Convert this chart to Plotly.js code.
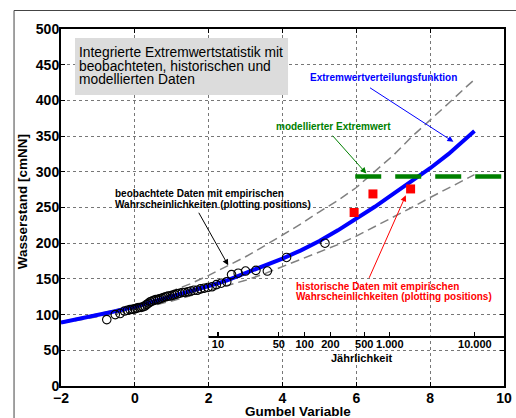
<!DOCTYPE html>
<html>
<head>
<meta charset="utf-8">
<script src="https://cdn.plot.ly/plotly-3.0.1.min.js"></script>
<style>html,body{margin:0;padding:0;background:#fff;}#chart{width:516px;height:418px;}</style>
</head>
<body>
<div id="chart"></div>
<script>
// ---- data ----
const curveX = [-2,-1.5,-1,-0.5,0,0.5,1,1.5,2,2.5,3,3.5,4,4.5,5,5.5,6,6.5,7,7.5,8,8.5,9,9.2];
const fitY   = [89,94,99,105,111,118,125,132,140,148,158,168,178.5,190,203,218,234,251,269,287,305,325,347,357];
const upperY = [90,95,101,107,114,123,133,143,155,168,181,196,211,227,244,260,278,300,323,349,372,396,420,429];
const lowerY = [88,92,97,102,107,113,119,126,133,140,148,157,167,177,187,198,210,223,236,250,264,277,290,296];

const obsX = [-0.76,-0.53,-0.40,-0.28,-0.20,-0.13,-0.06,0.00,0.06,0.12,0.17,0.22,0.27,0.32,0.37,0.42,0.47,0.52,0.57,0.62,0.67,0.73,0.78,0.84,0.90,0.96,1.02,1.08,1.15,1.22,1.29,1.36,1.44,1.52,1.60,1.69,1.78,1.88,1.98,2.09,2.21,2.34,2.49,2.62,2.80,3.00,3.28,3.59,4.11,5.15];
const obsY = [93,100,101.5,105,106,107,107.5,108,109,110,110,111,112,114,116,118,119,120,121,121,122,123,124,125,126,126,127,128,129,130,131,131,132,133,134,134,136,137,138,139,142,144,146,156,158,161,162,161,180,200];

const histX = [5.94,6.45,7.47];
const histY = [243,269,276];

const modelledValue = 293.5;
const modelledFrom = 5.97;
const modelledTo = 10;

const returnPeriods = [10,50,100,200,500,1000,10000];
const returnLabels = ['10','50','100','200','500','1.000','10.000'];

const titleLines = ['Integrierte Extremwertstatistik mit','beobachteten, historischen und','modellierten Daten'];

// ---- helpers ----
const gumbel = T => -Math.log(-Math.log(1 - 1/T));
const FONT = 'Liberation Sans, Arial, sans-serif';

const traces = [
  {x: curveX, y: upperY, mode:'lines', line:{color:'#808080', width:1.5, dash:'9px,5px'}, hoverinfo:'skip'},
  {x: curveX, y: lowerY, mode:'lines', line:{color:'#808080', width:1.5, dash:'9px,5px'}, hoverinfo:'skip'},
  {x: curveX, y: fitY, mode:'lines', line:{color:'#0000ff', width:4}},
  {x: [modelledFrom, modelledTo], y: [modelledValue, modelledValue], mode:'lines', line:{color:'#008000', width:4.5, dash:'26px,14px'}},
  {x: obsX, y: obsY, mode:'markers', marker:{symbol:'circle-open', size:8.5, color:'#000', line:{width:1.1}}},
  {x: histX, y: histY, mode:'markers', marker:{symbol:'square', size:9, color:'#ff0000'}},
  {x: [], y: [], xaxis:'x2', yaxis:'y2', mode:'markers', hoverinfo:'skip'}
];

const tickFont = {family: FONT, size: 14, color:'#000', weight:'bold'};
const axisCommon = {
  showline:true, linewidth:2, linecolor:'#000', mirror:'allticks',
  ticks:'inside', ticklen:4, tickwidth:1.2, tickcolor:'#000',
  showgrid:true, gridcolor:'#777', griddash:'dot', gridwidth:1,
  zeroline:false, tickfont: tickFont, fixedrange:true
};

const annFont = (size, color, weight) => ({family: FONT, size: size, color: color, weight: weight});

const annotations = [];
// title box lines
const titleYs = [467, 448, 429.5];
titleLines.forEach((t, i) => annotations.push({
  x: -1.566, y: titleYs[i], xref:'x', yref:'y', text: t, showarrow:false,
  xanchor:'left', yanchor:'middle', font: annFont(13.8, '#000', 'normal')
}));
// labels
annotations.push({x:6.73, y:432.7, xref:'x', yref:'y', text:'Extremwertverteilungsfunktion', showarrow:false, xanchor:'center', yanchor:'middle', font: annFont(10,'#0000ff','bold')});
annotations.push({x:5.37, y:363.9, xref:'x', yref:'y', text:'modellierter Extremwert', showarrow:false, xanchor:'center', yanchor:'middle', font: annFont(10,'#008000','bold')});
annotations.push({x:-0.583, y:270, xref:'x', yref:'y', text:'beobachtete Daten mit empirischen', showarrow:false, xanchor:'left', yanchor:'middle', font: annFont(10,'#000','bold')});
annotations.push({x:-0.583, y:254.6, xref:'x', yref:'y', text:'Wahrscheinlichkeiten (plotting positions)', showarrow:false, xanchor:'left', yanchor:'middle', font: annFont(10,'#000','bold')});
annotations.push({x:4.30, y:138.7, xref:'x', yref:'y', text:'historische Daten mit empirischen', showarrow:false, xanchor:'left', yanchor:'middle', font: annFont(10,'#ff0000','bold')});
annotations.push({x:4.30, y:125.2, xref:'x', yref:'y', text:'Wahrscheinlichkeiten (plotting positions)', showarrow:false, xanchor:'left', yanchor:'middle', font: annFont(10,'#ff0000','bold')});
// arrows
const arrow = (hx, hy, tx, ty, color) => ({x:hx, y:hy, ax:tx, ay:ty, xref:'x', yref:'y', axref:'x', ayref:'y', text:'', showarrow:true, arrowhead:2, arrowsize:1.2, arrowwidth:1, arrowcolor:color, standoff:0, startstandoff:0});
annotations.push(arrow(8.63, 342, 6.33, 419, '#0000ff'));
annotations.push(arrow(6.27, 297.6, 5.32, 352.7, '#008000'));
annotations.push(arrow(2.53, 169, 1.71, 244.7, '#000'));
annotations.push(arrow(7.34, 267, 6.33, 149.4, '#ff0000'));
// axis titles
annotations.push({x:0.534, y:-0.072, xref:'paper', yref:'paper', text:'Gumbel Variable', showarrow:false, xanchor:'center', yanchor:'middle', font: annFont(13.5,'#000','bold')});
annotations.push({x:-0.086, y:0.517, xref:'paper', yref:'paper', text:'Wasserstand [cmNN]', textangle:-90, showarrow:false, xanchor:'center', yanchor:'middle', font: annFont(13.5,'#000','bold')});
annotations.push({x:0.679, y:0.079, xref:'paper', yref:'paper', text:'Jährlichkeit', showarrow:false, xanchor:'center', yanchor:'middle', font: annFont(11,'#000','bold')});

const layout = {
  width:516, height:418,
  margin:{l:61, r:12, t:29, b:32, pad:0},
  paper_bgcolor:'#fff', plot_bgcolor:'#fff',
  showlegend:false,
  font:{family: FONT, color:'#000'},
  xaxis: Object.assign({}, axisCommon, {range:[-2,10], tick0:0, dtick:2, domain:[0,1], ticklabelstandoff:-2}),
  yaxis: Object.assign({}, axisCommon, {range:[0,500], tick0:0, dtick:50, domain:[0,1], ticklabelstandoff:-3}),
  xaxis2: {
    domain:[1/3, 1], range:[2,10], anchor:'y2', side:'bottom',
    showline:true, linewidth:2, linecolor:'#000', showgrid:false, zeroline:false,
    ticks:'inside', ticklen:4, tickwidth:1.2, tickcolor:'#000',
    tickmode:'array', tickvals: returnPeriods.map(gumbel), ticktext: returnLabels,
    tickfont:{family: FONT, size:11, color:'#000', weight:'bold'}, fixedrange:true,
    ticklabelstandoff:-3
  },
  yaxis2: {domain:[0.1406, 0.1416], anchor:'x2', visible:false, range:[0,1], fixedrange:true},
  shapes: [
    {type:'rect', xref:'x', yref:'y', x0:-1.62, x1:4.15, y0:407.4, y1:487.4, fillcolor:'#dcdcdc', line:{width:0}, layer:'above'},
    {type:'rect', xref:'paper', yref:'paper', x0:-0.106, x1:1.3, y0:-0.3, y1:1.0518, line:{color:'#444', width:1}, fillcolor:'rgba(0,0,0,0)', layer:'below'}
  ],
  annotations: annotations
};

Plotly.newPlot('chart', traces, layout, {staticPlot:true, displayModeBar:false});
</script>
</body>
</html>
